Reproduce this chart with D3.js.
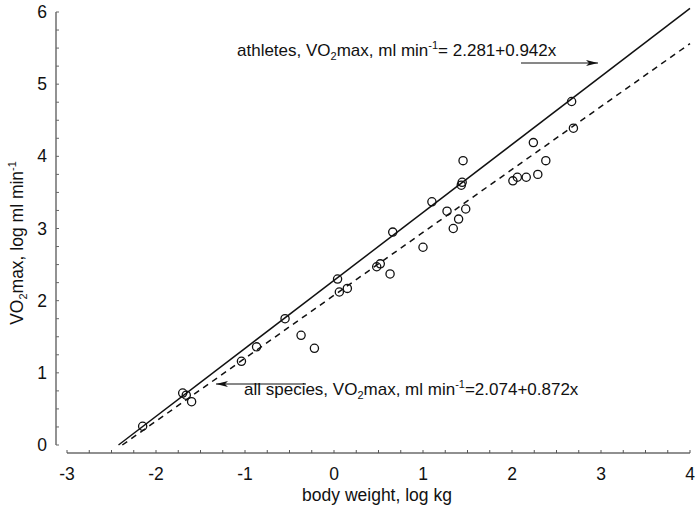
<!DOCTYPE html>
<html>
<head>
<meta charset="utf-8">
<script src="https://cdn.jsdelivr.net/npm/d3@7"></script>
<style>
  body { margin: 0; background: #fff; }
  svg { font-family: "Liberation Sans", Arial, sans-serif; }
</style>
</head>
<body>
<svg id="chart" width="696" height="514"></svg>
<script>
// body weight (log kg) and VO2max (log ml/min)
const bodyWeight = [-2.15, -1.70, -1.66, -1.60, -1.04, -0.87, -0.55, -0.37, -0.22,
  0.04, 0.06, 0.15, 0.48, 0.52, 0.63, 0.66, 1.00, 1.10, 1.27, 1.34, 1.40, 1.48,
  1.43, 1.44, 1.45, 2.01, 2.06, 2.16, 2.29, 2.24, 2.38, 2.67, 2.69]
const vo2max = [0.26, 0.72, 0.69, 0.60, 1.16, 1.36, 1.75, 1.52, 1.34,
  2.30, 2.12, 2.17, 2.47, 2.51, 2.37, 2.95, 2.74, 3.37, 3.24, 3.00, 3.13, 3.27,
  3.60, 3.64, 3.94, 3.66, 3.71, 3.71, 3.75, 4.19, 3.94, 4.76, 4.39]

// regression lines: athletes (solid), all species (dashed)
const fitNames = ["athletes", "all species"]
const intercepts = [2.281, 2.074]
const slopes = [0.942, 0.872]
const fitDash = [null, "6,5"]

const xTicks = [-3, -2, -1, 0, 1, 2, 3, 4]
const yTicks = [0, 1, 2, 3, 4, 5, 6]

const svg = d3.select("#chart")

const x = d3.scaleLinear().domain([-3, 4]).range([67, 690])
const y = d3.scaleLinear().domain([0, 6]).range([445, 12])

// x axis (offset below the plot, ticks pointing up)
const xAxis = svg.append("g").attr("transform", "translate(0,453)")
xAxis.append("line")
  .attr("x1", x(-3)).attr("x2", x(4))
  .attr("stroke", "#222").attr("stroke-width", 1.2)
xAxis.selectAll(".minor")
  .data(d3.range(-3, 4.001, 0.25))
  .join("line")
  .attr("x1", d => x(d)).attr("x2", d => x(d))
  .attr("y1", 0).attr("y2", -3)
  .attr("stroke", "#555")
xAxis.selectAll("text")
  .data(xTicks)
  .join("text")
  .attr("x", d => x(d)).attr("y", 27)
  .attr("text-anchor", "middle")
  .attr("font-size", 17.5)
  .attr("fill", "#111")
  .text(d => d < 0 ? "-" + Math.abs(d) : d)

// y axis (offset left, ticks pointing right)
const yAxis = svg.append("g").attr("transform", "translate(56,0)")
yAxis.append("line")
  .attr("y1", y(0)).attr("y2", y(6))
  .attr("stroke", "#777").attr("stroke-width", 1.6)
yAxis.selectAll(".minor")
  .data(d3.range(0, 6.001, 0.25))
  .join("line")
  .attr("y1", d => y(d)).attr("y2", d => y(d))
  .attr("x1", 0).attr("x2", 3)
  .attr("stroke", "#666")
yAxis.selectAll("text")
  .data(yTicks)
  .join("text")
  .attr("x", -9).attr("y", d => y(d) + 6)
  .attr("text-anchor", "end")
  .attr("font-size", 17.5)
  .attr("fill", "#111")
  .text(d => d)

// axis titles
svg.append("text")
  .attr("x", 377).attr("y", 501)
  .attr("text-anchor", "middle")
  .attr("font-size", 17.5)
  .attr("fill", "#111")
  .text("body weight, log kg")

const yTitle = svg.append("text")
  .attr("transform", "translate(23,243) rotate(-90)")
  .attr("text-anchor", "middle")
  .attr("font-size", 17.5)
  .attr("fill", "#111")
yTitle.append("tspan").text("VO")
yTitle.append("tspan").attr("font-size", 11).attr("dy", 4).text("2")
yTitle.append("tspan").attr("dy", -4).text("max, log ml min")
yTitle.append("tspan").attr("font-size", 11).attr("dy", -7).text("-1")

// regression lines, from y = 0 up to the right edge
const line = d3.line().x(d => x(d[0])).y(d => y(d[1]))
fitNames.forEach((name, i) => {
  const x0 = -intercepts[i] / slopes[i]
  const pts = [x0, 4].map(v => [v, intercepts[i] + slopes[i] * v])
  svg.append("path")
    .attr("d", line(pts))
    .attr("fill", "none")
    .attr("stroke", "#111")
    .attr("stroke-width", 1.5)
    .attr("stroke-dasharray", fitDash[i])
})

// points
svg.append("g")
  .selectAll("circle")
  .data(bodyWeight)
  .join("circle")
  .attr("cx", d => x(d))
  .attr("cy", (d, i) => y(vo2max[i]))
  .attr("r", 4.1)
  .attr("fill", "none")
  .attr("stroke", "#111")
  .attr("stroke-width", 1.3)

// annotations with arrows
svg.append("defs").append("marker")
  .attr("id", "arrow")
  .attr("viewBox", "0 0 12 6")
  .attr("refX", 12).attr("refY", 3)
  .attr("markerWidth", 12).attr("markerHeight", 6)
  .attr("markerUnits", "userSpaceOnUse")
  .attr("orient", "auto")
  .append("path")
  .attr("d", "M0,0 L12,3 L0,6 L3,3 Z")
  .attr("fill", "#111")

function label(tx, ty, name, eq) {
  const t = svg.append("text")
    .attr("x", tx).attr("y", ty)
    .attr("font-size", 17)
    .attr("fill", "#111")
  t.append("tspan").text(name + ", VO")
  t.append("tspan").attr("font-size", 11).attr("dy", 4).text("2")
  t.append("tspan").attr("dy", -4).text("max, ml min")
  t.append("tspan").attr("font-size", 11).attr("dy", -7).text("-1")
  t.append("tspan").attr("dy", 7).text(eq)
}

label(237, 56, fitNames[0], "= " + intercepts[0] + "+" + slopes[0] + "x")
svg.append("line")
  .attr("x1", 521).attr("y1", 63).attr("x2", 598).attr("y2", 63)
  .attr("stroke", "#111").attr("marker-end", "url(#arrow)")

label(244, 395, fitNames[1], "=" + intercepts[1] + "+" + slopes[1] + "x")
svg.append("line")
  .attr("x1", 306).attr("y1", 384).attr("x2", 216).attr("y2", 384)
  .attr("stroke", "#111").attr("marker-end", "url(#arrow)")
</script>
</body>
</html>
